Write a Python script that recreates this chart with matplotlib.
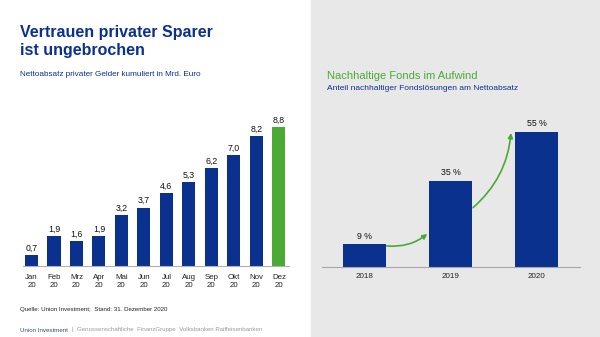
import matplotlib.pyplot as plt
from matplotlib.patches import Rectangle

# Daten: kumulierter Nettoabsatz 2020 (Mrd. Euro)
monate = ["Jan", "Feb", "Mrz", "Apr", "Mai", "Jun", "Jul", "Aug", "Sep", "Okt", "Nov", "Dez"]
absatz = [0.7, 1.9, 1.6, 1.9, 3.2, 3.7, 4.6, 5.3, 6.2, 7.0, 8.2, 8.8]

# Anteil nachhaltiger Fonds am Nettoabsatz (%)
jahre = ["2018", "2019", "2020"]
anteil = [9, 35, 55]

BLAU = "#0B318F"
GRUEN = "#4AAA35"
GRAU = "#E8E8E8"

plt.rcParams["font.family"] = ["Liberation Sans", "DejaVu Sans"]

W, H = 600, 337
fig = plt.figure(figsize=(W / 100, H / 100), dpi=100)

# Hintergrund-Achse in Pixelkoordinaten
bg = fig.add_axes([0, 0, 1, 1])
bg.set_xlim(0, W)
bg.set_ylim(H, 0)
bg.axis("off")
bg.add_patch(Rectangle((311, 0), W - 311, H, color=GRAU, zorder=0))

bg.text(20, 37, "Vertrauen privater Sparer", fontsize=11.5,
        fontweight="bold", color=BLAU, va="baseline")
bg.text(20, 54.5, "ist ungebrochen", fontsize=11.5,
        fontweight="bold", color=BLAU, va="baseline")
bg.text(20, 75, "Nettoabsatz privater Gelder kumuliert in Mrd. Euro", fontsize=5.9,
        color=BLAU, va="center")
bg.text(327, 76, "Nachhaltige Fonds im Aufwind", fontsize=8, color=GRUEN, va="center")
bg.text(327, 89, "Anteil nachhaltiger Fondslösungen am Nettoabsatz", fontsize=6,
        color=BLAU, va="center")
bg.text(20, 310, "Quelle: Union Investment;  Stand: 31. Dezember 2020", fontsize=4.4,
        color="#222222", va="center")
bg.text(20, 330, "Union Investment", fontsize=4.4, color="#3A4A7A", va="center")
bg.text(72, 330, "|", fontsize=4.4, color="#9A9A9A", va="center")
bg.text(77, 330, "Genossenschaftliche  FinanzGruppe  Volksbanken Raiffeisenbanken",
        fontsize=4.4, color="#9A9A9A", va="center")


def achse(x0, y0, x1, y1):
    return fig.add_axes([x0 / W, 1 - y1 / H, (x1 - x0) / W, (y1 - y0) / H])


# Linkes Diagramm: Monatswerte
ax1 = achse(22.5, 108, 289, 266)
x1 = range(len(monate))
farben = [BLAU] * (len(monate) - 1) + [GRUEN]
ax1.bar(x1, absatz, width=0.58, color=farben)
for i, v in enumerate(absatz):
    ax1.text(i, v + 0.15, f"{v:.1f}".replace(".", ","), ha="center", va="bottom",
             fontsize=6.3, color="#111111")
ax1.set_xlim(-0.4, 11.45)
ax1.set_ylim(0, 10)
ax1.set_xticks(list(x1))
ax1.set_xticklabels([m + "\n20" for m in monate], fontsize=5.7, color="#222222",
                    linespacing=1.35)
ax1.tick_params(axis="x", length=0, pad=5.5)
ax1.set_yticks([])
for s in ["top", "right", "left"]:
    ax1.spines[s].set_visible(False)
ax1.spines["bottom"].set_color("#B0B0B0")
ax1.spines["bottom"].set_linewidth(0.8)
ax1.patch.set_alpha(0)

# Rechtes Diagramm: Anteil nachhaltiger Fonds
ax2 = achse(322, 119.5, 580, 266.5)
x2 = range(len(jahre))
ax2.bar(x2, anteil, width=0.5, color=BLAU)
for i, v in enumerate(anteil):
    ax2.text(i, v + 1.5, f"{v} %", ha="center", va="bottom", fontsize=6.3,
             color="#111111")
ax2.set_xlim(-0.49, 2.5)
ax2.set_ylim(0, 60)
ax2.set_xticks(list(x2))
ax2.set_xticklabels(jahre, fontsize=5.8, color="#222222")
ax2.tick_params(axis="x", length=0, pad=5)
ax2.set_yticks([])
for s in ["top", "right", "left"]:
    ax2.spines[s].set_visible(False)
ax2.spines["bottom"].set_color("#A8A8A8")
ax2.spines["bottom"].set_linewidth(0.8)
ax2.patch.set_alpha(0)

# Aufwärtspfeile zwischen den Balken
pfeil = dict(arrowstyle="-|>", color=GRUEN, lw=1.2, mutation_scale=7,
             shrinkA=0, shrinkB=0, connectionstyle="arc3,rad=0.2")
ax2.annotate("", xy=(0.73, 13.3), xytext=(0.26, 8.4), arrowprops=pfeil)
ax2.annotate("", xy=(1.7, 54.5), xytext=(1.26, 24), arrowprops=pfeil)

fig.savefig("out.png", dpi=100)
